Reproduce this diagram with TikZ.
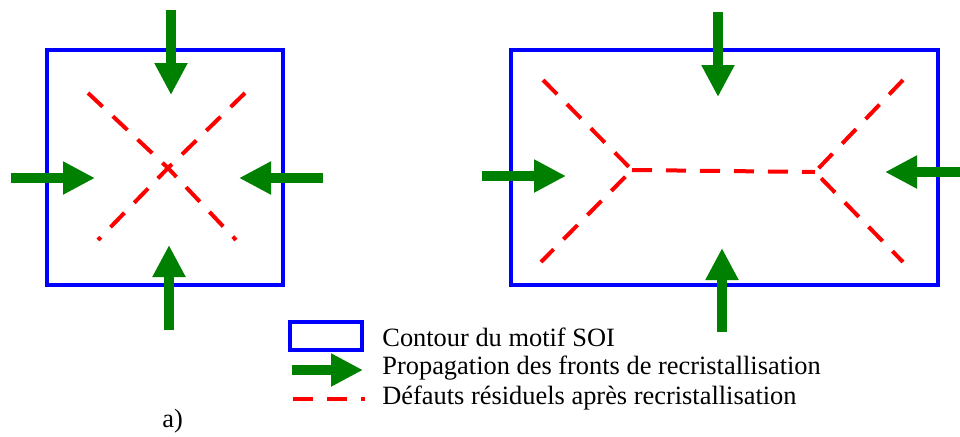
\documentclass[tikz,border=0pt]{standalone}
\usepackage{fontspec}
\setmainfont{Liberation Serif}
\newfontfamily\legendfont{Liberation Serif}
\usepackage{tikz}
\usetikzlibrary{positioning,arrows.meta,calc}
\definecolor{soiblue}{HTML}{0000FF}
\definecolor{frontgreen}{HTML}{008000}
\definecolor{defectred}{HTML}{FF0000}

\begin{document}
\begin{tikzpicture}[
    x=0.5pt, y=-0.5pt,
    motif/.style={draw=soiblue, line width=2pt},
    front/.style={-{Triangle[length=16pt,width=15.5pt]}, draw=frontgreen, line width=5pt},
    defect/.style={draw=defectred, line width=2pt, dash pattern=on 10pt off 7pt},
    legend/.style={anchor=west, font=\legendfont\fontsize{13.2}{15}\selectfont, inner sep=0pt}
]
    \useasboundingbox (0,0) rectangle (960,436);

    % a) square pattern
    \draw[motif] (47,50) rectangle (283,285);
    \coordinate (ca) at (168,168);
    \draw[defect] (88,93) -- (ca) -- (236,240);
    \draw[defect] (245,93) -- (ca) -- (98,240);
    \draw[front] (171,10) -- (171,95);
    \draw[front] (11,178) -- (95,178);
    \draw[front] (323,178) -- (239,178);
    \draw[front] (169,330) -- (169,245);

    % b) rectangular pattern
    \draw[motif] (511,50) rectangle (938,285);
    \coordinate (jl) at (632,170);
    \coordinate (jr) at (815,172);
    \draw[defect] (543,80) -- (jl) -- (541,262);
    \draw[defect] (jl) -- (jr);
    \draw[defect] (903,80) -- (jr) -- (903,262);
    \draw[front] (718,12) -- (718,97);
    \draw[front] (482,176) -- (566,176);
    \draw[front] (960,172) -- (885,172);
    \draw[front] (722,332) -- (722,248);

    % legend
    \draw[motif] (290,322) rectangle (362,350);
    \draw[front] (292,370) -- (363,370);
    \draw[defect] (293,399) -- (365,399);
    \node[legend] (l1) at (382,337) {Contour du motif SOI};
    \node[legend] (l2) at (382,368) {Propagation des fronts de recristallisation};
    \node[legend] (l3) at (382,398) {Défauts résiduels après recristallisation};

    \node[legend] (lbl) at (162,421) {a)};
\end{tikzpicture}
\end{document}
